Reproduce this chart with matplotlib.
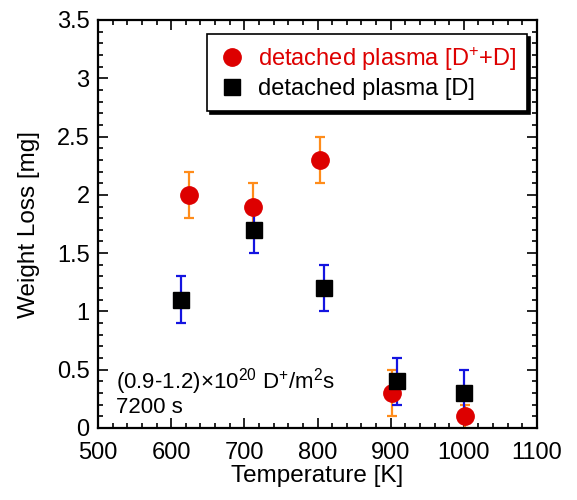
import matplotlib
matplotlib.use("Agg")
import matplotlib.pyplot as plt
from matplotlib.lines import Line2D
from matplotlib.ticker import MultipleLocator

plt.rcParams['font.family'] = ['Liberation Sans', 'DejaVu Sans']
plt.rcParams['mathtext.fontset'] = 'custom'
plt.rcParams['mathtext.rm'] = 'Liberation Sans'
plt.rcParams['mathtext.it'] = 'Liberation Sans'

# Weight loss data, detached plasma [D+ + D]
temp_ion = [624, 712, 803, 902, 1001]
loss_ion = [2.0, 1.9, 2.3, 0.3, 0.1]
err_ion = [0.2, 0.2, 0.2, 0.2, 0.1]

# Weight loss data, detached plasma [D]
temp_atom = [613, 713, 809, 908, 1000]
loss_atom = [1.1, 1.7, 1.2, 0.4, 0.3]
err_atom = [0.2, 0.2, 0.2, 0.2, 0.2]

labels = ['detached plasma [D$^{+}$+D]', 'detached plasma [D]']
x_ticks = [500, 600, 700, 800, 900, 1000, 1100]
y_ticks = [0, 0.5, 1, 1.5, 2, 2.5, 3, 3.5]

red = '#dd0000'
orange = '#ff8c1a'
blue = '#1414e0'

fig = plt.figure(figsize=(5.77, 5.0), dpi=100)
ax = fig.add_axes([98 / 577, 1 - 428 / 500, 439 / 577, 408 / 500])

ax.errorbar(temp_ion, loss_ion, yerr=err_ion, fmt='none', ecolor=orange,
            elinewidth=1.6, capsize=3.5, capthick=1.6, zorder=2)
ax.errorbar(temp_atom, loss_atom, yerr=err_atom, fmt='none', ecolor=blue,
            elinewidth=1.6, capsize=3.5, capthick=1.6, zorder=2)
ax.plot(temp_ion, loss_ion, 'o', color=red, markersize=12.5, zorder=3)
ax.plot(temp_atom, loss_atom, 's', color='black', markersize=12, zorder=4)

ax.set_xlim(500, 1100)
ax.set_ylim(0, 3.5)
ax.set_xticks(x_ticks)
ax.set_yticks(y_ticks)
ax.set_xticklabels([str(v) for v in x_ticks])
ax.set_yticklabels(['0', '0.5', '1', '1.5', '2', '2.5', '3', '3.5'])
ax.xaxis.set_minor_locator(MultipleLocator(20))
ax.yaxis.set_minor_locator(MultipleLocator(0.1))
ax.tick_params(which='both', direction='in', top=True, right=True,
               width=1.2, labelsize=17, colors='black')
ax.tick_params(which='major', length=7)
ax.tick_params(which='minor', length=3.5)
ax.tick_params(axis='x', pad=10)
ax.tick_params(axis='y', pad=6)
for s in ax.spines.values():
    s.set_linewidth(1.6)

ax.set_xlabel('Temperature [K]', fontsize=17.5, labelpad=1)
ax.set_ylabel('Weight Loss [mg]', fontsize=17.5, labelpad=12)

handles = [
    Line2D([], [], marker='o', linestyle='none', color=red, markersize=12.5),
    Line2D([], [], marker='s', linestyle='none', color='black', markersize=12),
]
leg = ax.legend(handles, labels, loc='upper right',
                bbox_to_anchor=((527 - 98) / 439, (428 - 34) / 408),
                borderaxespad=0, fontsize=17, labelcolor=[red, 'black'],
                frameon=True, fancybox=False, edgecolor='black',
                framealpha=1, handletextpad=0.5, handlelength=1.2,
                borderpad=0.45, labelspacing=0.25,
                shadow={'color': 'black', 'alpha': 1})
leg.get_frame().set_linewidth(1.2)

ax.text(0.04, 0.115, '(0.9-1.2)$\\times$10$^{20}$ D$^{+}$/m$^{2}$s',
        transform=ax.transAxes, fontsize=16, va='center', ha='left')
ax.text(0.04, 0.05, '7200 s', transform=ax.transAxes, fontsize=16,
        va='center', ha='left')

fig.savefig('out.png', dpi=100)
